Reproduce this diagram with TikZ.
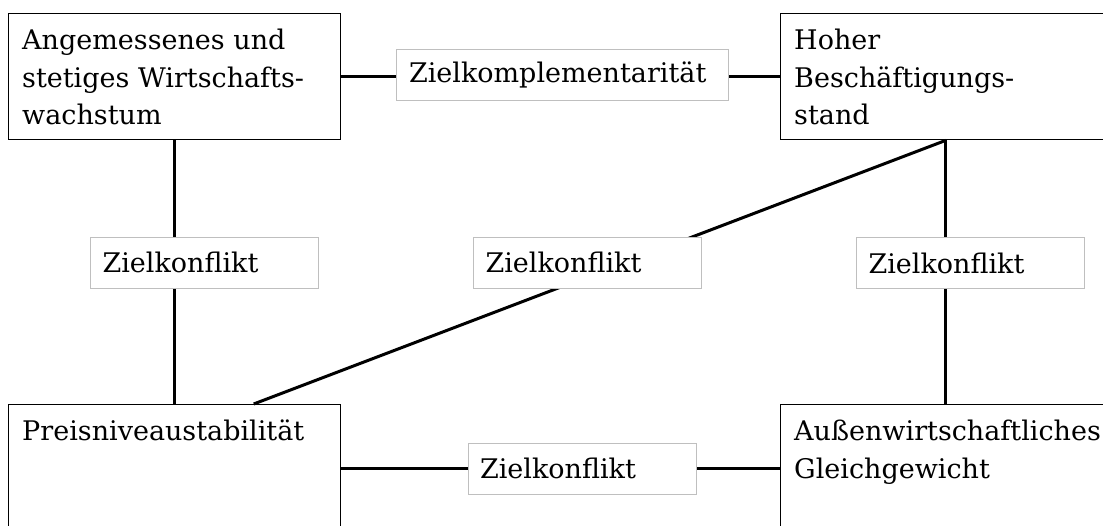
\documentclass[tikz,border=0pt]{standalone}
\usepackage{fontspec}
\setmainfont{DejaVu Serif}
\begin{document}
\begin{tikzpicture}[x=1pt,y=-1pt,
  ziel/.style={draw, line width=1.4pt, minimum width=332pt, minimum height=126pt, anchor=north west, inner sep=0pt},
  zieltext/.style={anchor=north west, align=left, inner sep=0pt, font=\fontsize{27}{37.5}\selectfont},
  beziehung/.style={draw=black!25, fill=white, line width=0.8pt, minimum width=228pt, minimum height=51pt, text width=204pt, inner xsep=12pt, align=left, font=\fontsize{27}{37.5}\selectfont},
  verbindung/.style={line width=3pt}]
\useasboundingbox (0,0) rectangle (1103,526);
\clip (0,0) rectangle (1103,526);
% Ziele
\node[ziel] (wachstum) at (8,13) {};
\node[ziel, minimum width=330pt] (beschaeftigung) at (780,13) {};
\node[ziel, minimum height=128pt] (preis) at (8,404) {};
\node[ziel, minimum width=330pt, minimum height=128pt] (aussen) at (780,404) {};
\node[zieltext] (wachstumtext) at ([shift={(14,16)}]wachstum.north west) {Angemessenes und\\stetiges Wirtschafts-\\wachstum};
\node[zieltext] (beschaeftigungtext) at ([shift={(14,16)}]beschaeftigung.north west) {Hoher\\Beschäftigungs-\\stand};
\node[zieltext] (preistext) at ([shift={(14,16)}]preis.north west) {Preisniveaustabilität};
\node[zieltext] (aussentext) at ([shift={(14,16)}]aussen.north west) {Außenwirtschaftliches\\Gleichgewicht};
% Verbindungen
\draw[verbindung] (wachstum) -- (beschaeftigung);
\draw[verbindung] (wachstum) -- (preis);
\draw[verbindung] (beschaeftigung) -- (aussen);
\draw[verbindung] (preis) -- (aussen);
\draw[verbindung] (beschaeftigung.south) -- ([xshift=79pt]preis.north);
% Beziehungen
\node[beziehung, minimum width=332pt, text width=306pt, inner xsep=13pt] (komplementaer) at (562,74.5) {Zielkomplementarität};
\node[beziehung] (konfliktlinks) at (204.5,262.5) {Zielkonflikt};
\node[beziehung] (konfliktmitte) at (587.5,262.5) {Zielkonflikt};
\node[beziehung] (konfliktrechts) at (970.5,263) {Zielkonflikt};
\node[beziehung] (konfliktunten) at (582,468.5) {Zielkonflikt};
\end{tikzpicture}
\end{document}
